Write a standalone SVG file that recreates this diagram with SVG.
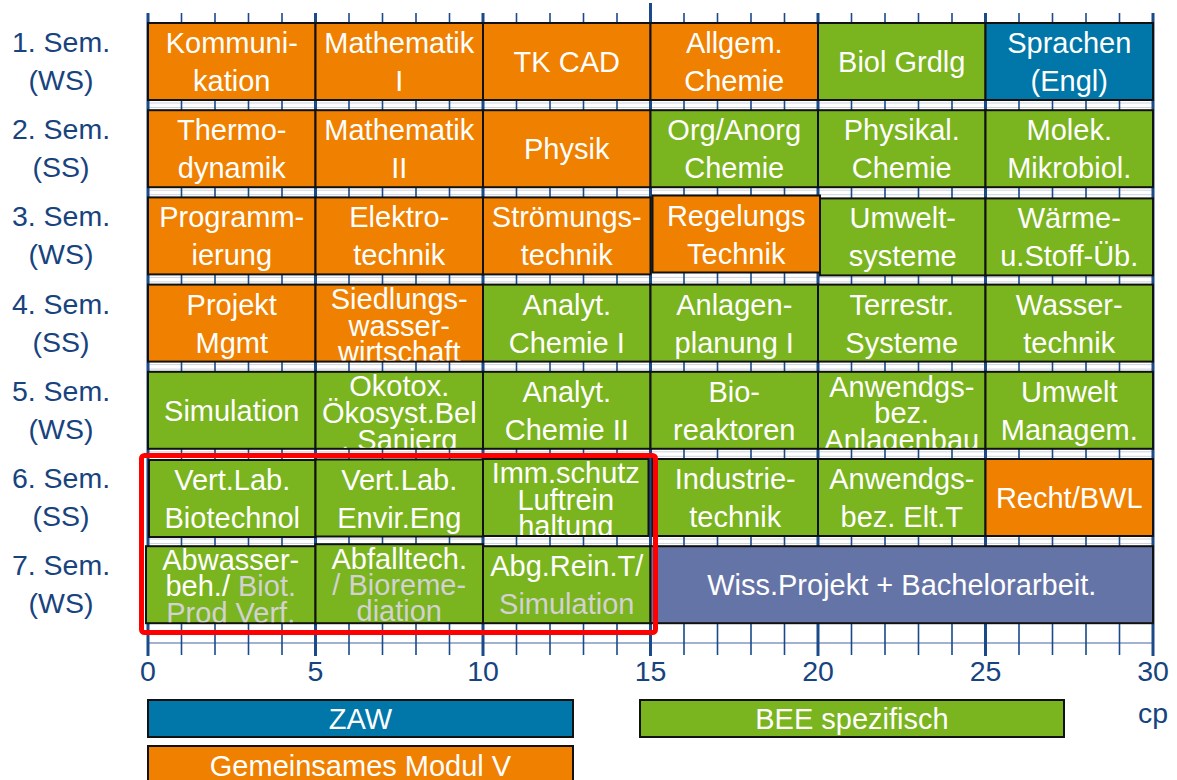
<svg xmlns="http://www.w3.org/2000/svg" width="1177" height="780" viewBox="0 0 1177 780">
<style>
.o{fill:#F08000;stroke:#111;stroke-width:2}
.g{fill:#7AB41E;stroke:#111;stroke-width:2}
.b{fill:#0077A8;stroke:#111;stroke-width:2}
.p{fill:#6574A7;stroke:#111;stroke-width:2}
text{font-family:"Liberation Sans",Arial,sans-serif;text-anchor:middle}
.t{font-size:29px;fill:#fff}
.gy{fill:#D2D2D2}
.lb{font-size:28.5px;fill:#17437E}
.minor{stroke:#1A4A8A;stroke-width:1.6;fill:none}
.major{stroke:#1A4A8A;stroke-width:3;fill:none}
.hl{stroke:#CDD4DE;stroke-width:1;fill:none}
</style>
<defs>
<clipPath id="c41"><rect x="316.5" y="285.6" width="165.5" height="75"/></clipPath>
<clipPath id="c51"><rect x="316.5" y="372.8" width="165.5" height="75"/></clipPath>
<clipPath id="c54"><rect x="819" y="372.8" width="165.5" height="75"/></clipPath>
<clipPath id="c62"><rect x="484" y="460" width="165.5" height="75"/></clipPath>
<clipPath id="c70"><rect x="147" y="547.2" width="167.5" height="75"/></clipPath>
<clipPath id="c71"><rect x="316.5" y="545.2" width="165.5" height="77"/></clipPath>
</defs>
<rect width="1177" height="780" fill="#fff"/>
<g id="grid">
<path class="hl" d="M148 103H1153M148 107.5H1153M148 190.2H1153M148 194.7H1153M148 277.4H1153M148 281.9H1153M148 364.6H1153M148 369.1H1153M148 451.8H1153M148 456.3H1153M148 539H1153M148 543.5H1153"/>
<path d="M148 643H1153" stroke="#8098BD" stroke-width="1.5"/>
<path class="minor" d="M181.5 13V655M215 13V655M248.5 13V655M282 13V655M349 13V655M382.5 13V655M416 13V655M449.5 13V655M516.5 13V655M550 13V655M583.5 13V655M617 13V655M684 13V655M717.5 13V655M751 13V655M784.5 13V655M851.5 13V655M885 13V655M918.5 13V655M952 13V655M1019 13V655M1052.5 13V655M1086 13V655M1119.5 13V655"/>
<path class="major" d="M148 13V656M315.5 13V656M483 13V656M650.5 3V656M818 13V656M985.5 13V656M1153 13V656"/>
</g>
<g id="row-labels">
<text class="lb" x="61" y="52">1. Sem.</text><text class="lb" x="61" y="90">(WS)</text>
<text class="lb" x="61" y="139">2. Sem.</text><text class="lb" x="61" y="177">(SS)</text>
<text class="lb" x="61" y="226">3. Sem.</text><text class="lb" x="61" y="264">(WS)</text>
<text class="lb" x="61" y="314">4. Sem.</text><text class="lb" x="61" y="352">(SS)</text>
<text class="lb" x="61" y="401">5. Sem.</text><text class="lb" x="61" y="439">(WS)</text>
<text class="lb" x="61" y="488">6. Sem.</text><text class="lb" x="61" y="526">(SS)</text>
<text class="lb" x="61" y="575">7. Sem.</text><text class="lb" x="61" y="613">(WS)</text>
</g>
<!-- Row 1 -->
<g id="kommunikation"><rect class="o" x="148" y="23" width="167.5" height="77"/><text class="t" x="231.75" y="53">Kommuni-</text><text class="t" x="231.75" y="91">kation</text></g>
<g id="mathematik1"><rect class="o" x="315.5" y="23" width="167.5" height="77"/><text class="t" x="399.25" y="53">Mathematik</text><text class="t" x="399.25" y="91">I</text></g>
<g id="tkcad"><rect class="o" x="483" y="23" width="167.5" height="77"/><text class="t" x="566.75" y="72">TK CAD</text></g>
<g id="allgchemie"><rect class="o" x="650.5" y="23" width="167.5" height="77"/><text class="t" x="734.25" y="53">Allgem.</text><text class="t" x="734.25" y="91">Chemie</text></g>
<g id="biolgrdlg"><rect class="g" x="818" y="23" width="167.5" height="77"/><text class="t" x="901.75" y="72">Biol Grdlg</text></g>
<g id="sprachen"><rect class="b" x="985.5" y="23" width="167.5" height="77"/><text class="t" x="1069.25" y="53">Sprachen</text><text class="t" x="1069.25" y="91">(Engl)</text></g>
<!-- Row 2 -->
<g id="thermodynamik"><rect class="o" x="148" y="110.2" width="167.5" height="77"/><text class="t" x="231.75" y="140.2">Thermo-</text><text class="t" x="231.75" y="178.2">dynamik</text></g>
<g id="mathematik2"><rect class="o" x="315.5" y="110.2" width="167.5" height="77"/><text class="t" x="399.25" y="140.2">Mathematik</text><text class="t" x="399.25" y="178.2">II</text></g>
<g id="physik"><rect class="o" x="483" y="110.2" width="167.5" height="77"/><text class="t" x="566.75" y="159.2">Physik</text></g>
<g id="organorg"><rect class="g" x="650.5" y="110.2" width="167.5" height="77"/><text class="t" x="734.25" y="140.2">Org/Anorg</text><text class="t" x="734.25" y="178.2">Chemie</text></g>
<g id="physchemie"><rect class="g" x="818" y="110.2" width="167.5" height="77"/><text class="t" x="901.75" y="140.2">Physikal.</text><text class="t" x="901.75" y="178.2">Chemie</text></g>
<g id="molek"><rect class="g" x="985.5" y="110.2" width="167.5" height="77"/><text class="t" x="1069.25" y="140.2">Molek.</text><text class="t" x="1069.25" y="178.2">Mikrobiol.</text></g>
<!-- Row 3 -->
<g id="programmierung"><rect class="o" x="148" y="197.4" width="167.5" height="77"/><text class="t" x="231.75" y="227.4">Programm-</text><text class="t" x="231.75" y="265.4">ierung</text></g>
<g id="elektrotechnik"><rect class="o" x="315.5" y="197.4" width="167.5" height="77"/><text class="t" x="399.25" y="227.4">Elektro-</text><text class="t" x="399.25" y="265.4">technik</text></g>
<g id="stroemungstechnik"><rect class="o" x="483" y="197.4" width="167.5" height="77"/><text class="t" x="566.75" y="227.4">Strömungs-</text><text class="t" x="566.75" y="265.4">technik</text></g>
<g id="regelungstechnik"><rect class="o" x="652.5" y="195.5" width="167.5" height="77"/><text class="t" x="736.25" y="225.5">Regelungs</text><text class="t" x="736.25" y="263.5">Technik</text></g>
<g id="umweltsysteme"><rect class="g" x="820" y="198.4" width="165.5" height="77"/><text class="t" x="902.75" y="228.4">Umwelt-</text><text class="t" x="902.75" y="266.4">systeme</text></g>
<g id="waerme"><rect class="g" x="985.5" y="198.4" width="167.5" height="77"/><text class="t" x="1069.25" y="228.4">Wärme-</text><text class="t" x="1069.25" y="266.4">u.Stoff-Üb.</text></g>
<!-- Row 4 -->
<g id="projektmgmt"><rect class="o" x="148" y="284.6" width="167.5" height="77"/><text class="t" x="231.75" y="314.6">Projekt</text><text class="t" x="231.75" y="352.6">Mgmt</text></g>
<g id="siedlungswasser"><rect class="o" x="315.5" y="284.6" width="167.5" height="77"/><g clip-path="url(#c41)"><text class="t" x="399.25" y="309">Siedlungs-</text><text class="t" x="399.25" y="335.5">wasser-</text><text class="t" x="399.25" y="362">wirtschaft</text></g></g>
<g id="analytchemie1"><rect class="g" x="483" y="284.6" width="167.5" height="77"/><text class="t" x="566.75" y="314.6">Analyt.</text><text class="t" x="566.75" y="352.6">Chemie I</text></g>
<g id="anlagenplanung"><rect class="g" x="650.5" y="284.6" width="167.5" height="77"/><text class="t" x="734.25" y="314.6">Anlagen-</text><text class="t" x="734.25" y="352.6">planung I</text></g>
<g id="terrestr"><rect class="g" x="818" y="284.6" width="167.5" height="77"/><text class="t" x="901.75" y="314.6">Terrestr.</text><text class="t" x="901.75" y="352.6">Systeme</text></g>
<g id="wassertechnik"><rect class="g" x="985.5" y="284.6" width="167.5" height="77"/><text class="t" x="1069.25" y="314.6">Wasser-</text><text class="t" x="1069.25" y="352.6">technik</text></g>
<!-- Row 5 -->
<g id="simulation5"><rect class="g" x="148" y="371.8" width="167.5" height="77"/><text class="t" x="231.75" y="420.8">Simulation</text></g>
<g id="oekotox"><rect class="g" x="315.5" y="371.8" width="167.5" height="77"/><g clip-path="url(#c51)"><text class="t" x="399.25" y="396">Okotox.</text><text class="t" x="399.25" y="423">Ökosyst.Bel</text><text class="t" x="399.25" y="450">. Sanierg</text></g></g>
<g id="analytchemie2"><rect class="g" x="483" y="371.8" width="167.5" height="77"/><text class="t" x="566.75" y="401.8">Analyt.</text><text class="t" x="566.75" y="439.8">Chemie II</text></g>
<g id="bioreaktoren"><rect class="g" x="650.5" y="371.8" width="167.5" height="77"/><text class="t" x="734.25" y="401.8">Bio-</text><text class="t" x="734.25" y="439.8">reaktoren</text></g>
<g id="anlagenbau"><rect class="g" x="818" y="371.8" width="167.5" height="77"/><g clip-path="url(#c54)"><text class="t" x="901.75" y="397">Anwendgs-</text><text class="t" x="901.75" y="423">bez.</text><text class="t" x="901.75" y="450">Anlagenbau</text></g></g>
<g id="umweltmanagem"><rect class="g" x="985.5" y="371.8" width="167.5" height="77"/><text class="t" x="1069.25" y="401.8">Umwelt</text><text class="t" x="1069.25" y="439.8">Managem.</text></g>
<!-- Row 6 -->
<g id="vertlabbio"><rect class="g" x="149" y="460" width="166.5" height="77"/><text class="t" x="232.25" y="490">Vert.Lab.</text><text class="t" x="232.25" y="528">Biotechnol</text></g>
<g id="vertlabenv"><rect class="g" x="315.5" y="459.5" width="167.5" height="77"/><text class="t" x="399.25" y="489.5">Vert.Lab.</text><text class="t" x="399.25" y="527.5">Envir.Eng</text></g>
<g id="immschutz"><rect class="g" x="483" y="459" width="165.5" height="77"/><g clip-path="url(#c62)"><text class="t" x="565.75" y="483">Imm.schutz</text><text class="t" x="565.75" y="509.5">Luftrein</text><text class="t" x="565.75" y="536">haltung</text></g></g>
<g id="industrietechnik"><rect class="g" x="652.5" y="459" width="165.5" height="77"/><text class="t" x="735.25" y="489">Industrie-</text><text class="t" x="735.25" y="527">technik</text></g>
<g id="anwendgselt"><rect class="g" x="818" y="459" width="167.5" height="77"/><text class="t" x="901.75" y="489">Anwendgs-</text><text class="t" x="901.75" y="527">bez. Elt.T</text></g>
<g id="rechtbwl"><rect class="o" x="985.5" y="459" width="167.5" height="77"/><text class="t" x="1069.25" y="508">Recht/BWL</text></g>
<!-- Row 7 -->
<g id="abwasser"><rect class="g" x="146" y="546.2" width="169.5" height="77"/><g clip-path="url(#c70)"><text class="t" x="230.75" y="569.5">Abwasser-</text><text class="t" x="230.75" y="596"><tspan>beh./</tspan><tspan class="gy"> Biot.</tspan></text><text class="t gy" x="230.75" y="622.5">Prod Verf.</text></g></g>
<g id="abfalltech"><rect class="g" x="315.5" y="544.2" width="167.5" height="79"/><g clip-path="url(#c71)"><text class="t" x="399.25" y="568.5">Abfalltech.</text><text class="t gy" x="399.25" y="595">/ Bioreme-</text><text class="t gy" x="399.25" y="621">diation</text></g></g>
<g id="abgreint"><rect class="g" x="483" y="546.2" width="167.5" height="77"/><text class="t" x="566.75" y="576.2">Abg.Rein.T/</text><text class="t gy" x="566.75" y="614.2">Simulation</text></g>
<g id="bachelorarbeit"><rect class="p" x="650.5" y="546.2" width="502.5" height="77"/><text class="t" x="901.75" y="595.2">Wiss.Projekt + Bachelorarbeit.</text></g>
<!-- highlight -->
<rect id="highlight" x="141.5" y="455.5" width="514" height="177" rx="3" fill="none" stroke="#FF0000" stroke-width="5"/>
<g id="axis-labels">
<text class="lb" x="148" y="681">0</text>
<text class="lb" x="315.5" y="681">5</text>
<text class="lb" x="483" y="681">10</text>
<text class="lb" x="650.5" y="681">15</text>
<text class="lb" x="818" y="681">20</text>
<text class="lb" x="985.5" y="681">25</text>
<text class="lb" x="1153" y="681">30</text>
<text class="lb" x="1153" y="723">cp</text>
</g>
<g id="legend-zaw"><rect class="b" x="148" y="700" width="425" height="37"/><text class="t" x="360.5" y="729">ZAW</text></g>
<g id="legend-bee"><rect class="g" x="640" y="700" width="424" height="37"/><text class="t" x="852" y="729">BEE spezifisch</text></g>
<g id="legend-gemeinsam"><rect class="o" x="148" y="746" width="425" height="44"/><text class="t" x="360.5" y="776">Gemeinsames Modul V</text></g>
</svg>
